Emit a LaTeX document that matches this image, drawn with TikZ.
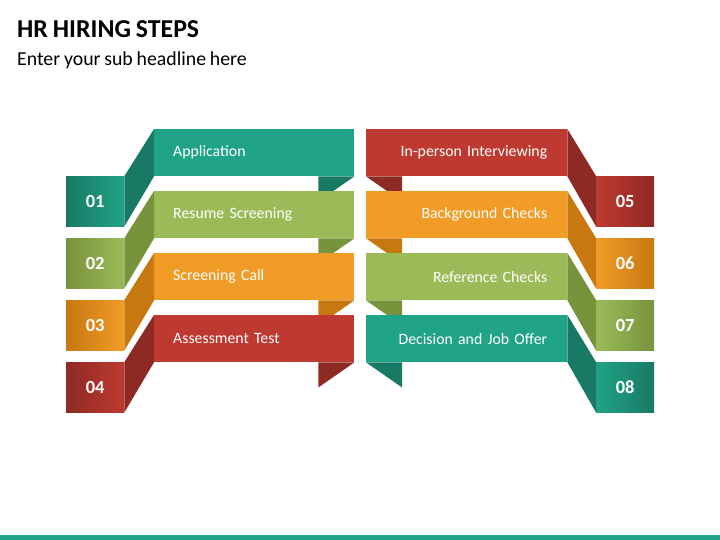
\documentclass[tikz,border=0pt]{standalone}
\usepackage{fontspec}
\setmainfont{Carlito}[WordSpace=0.85]
\definecolor{tl-main}{HTML}{20A386}
\definecolor{tl-dark}{HTML}{187A65}
\definecolor{gr-main}{HTML}{9BBB59}
\definecolor{gr-dark}{HTML}{77933C}
\definecolor{or-main}{HTML}{F29C28}
\definecolor{or-dark}{HTML}{C7780F}
\definecolor{rd-main}{HTML}{BE3A31}
\definecolor{rd-dark}{HTML}{8E2A24}
\begin{document}
\begin{tikzpicture}[x=1pt,y=-1pt,
  ribbon/.style={minimum height=47pt, inner ysep=0pt, text=white, anchor=north west,
    font=\fontsize{15.8}{18}\selectfont},
  lribbon/.style={ribbon, inner xsep=19pt, text width=162pt, align=left},
  rribbon/.style={ribbon, inner xsep=20pt, text width=161pt, align=right},
  numbox/.style={minimum width=58pt, minimum height=50pt, inner sep=0pt, anchor=north west,
    text=white, font=\bfseries\fontsize{18.5}{20}\selectfont},
  heading/.style={anchor=base west, inner sep=0pt, text=black}]
\useasboundingbox (0,0) rectangle (720,540);
\fill[white] (0,0) rectangle (720,540);
\node[heading, font=\bfseries\fontsize{25.8}{30}\selectfont] (title) at (17,38) {HR HIRING STEPS};
\node[heading, font=\fontsize{19.8}{24}\selectfont] (subtitle) at (17,66) {Enter your sub headline here};
% left steps
\foreach \i/\c/\n/\t in {0/tl/01/Application, 1/gr/02/Resume Screening, 2/or/03/Screening Call, 3/rd/04/Assessment Test}{
  \pgfmathsetmacro\T{129+62*\i}
  \node[numbox, left color=\c-dark, right color=\c-main] (box\n) at (66,\T+47) {\n};
  \node[lribbon, fill=\c-main] (rib\n) at (154,\T) {\t};
  \fill[\c-dark] (box\n.north east) -- (rib\n.north west) -- (rib\n.south west) -- (box\n.south east) -- cycle;
  \fill[\c-dark] (rib\n.south east) -- ++(-36,0) -- ++(0,25) -- cycle;
}
% right steps
\foreach \i/\c/\n/\t in {0/rd/05/In-person Interviewing, 1/or/06/Background Checks, 2/gr/07/Reference Checks, 3/tl/08/Decision and Job Offer}{
  \pgfmathsetmacro\T{129+62*\i}
  \node[numbox, left color=\c-main, right color=\c-dark] (box\n) at (596,\T+47) {\n};
  \node[rribbon, fill=\c-main] (rib\n) at (366,\T) {\t};
  \fill[\c-dark] (rib\n.north east) -- (box\n.north west) -- (box\n.south west) -- (rib\n.south east) -- cycle;
  \fill[\c-dark] (rib\n.south west) -- ++(36,0) -- ++(0,25) -- cycle;
}
\fill[tl-main] (0,535) rectangle (720,540);
\end{tikzpicture}
\end{document}
